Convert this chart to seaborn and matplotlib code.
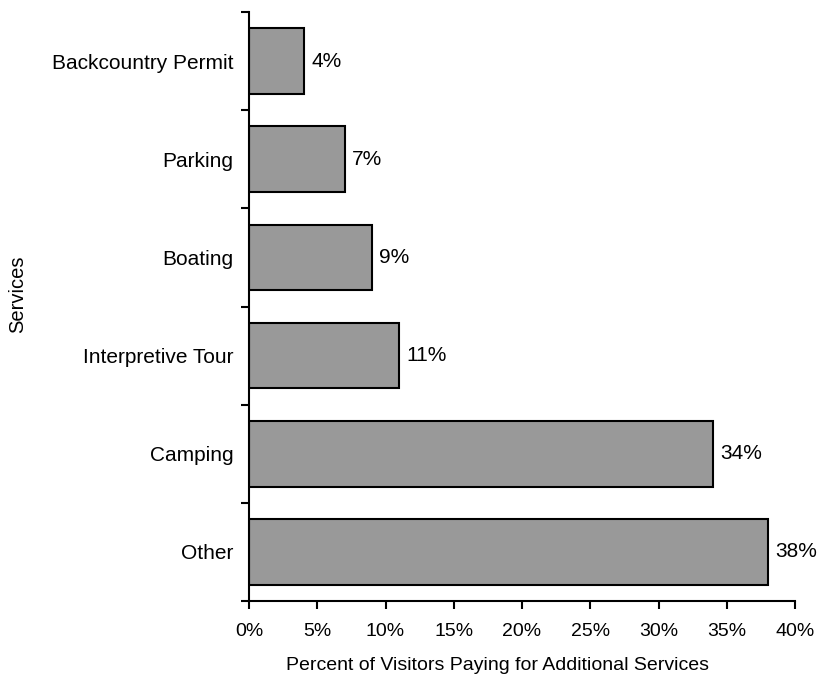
import matplotlib
matplotlib.use("Agg")
import matplotlib.pyplot as plt
import seaborn as sns
import pandas as pd
import numpy as np

services = ["Backcountry Permit", "Parking", "Boating", "Interpretive Tour", "Camping", "Other"]
percents = [4, 7, 9, 11, 34, 38]
xticks = [0, 5, 10, 15, 20, 25, 30, 35, 40]

sns.set_theme(style="white")
plt.rcParams['font.family'] = ['Liberation Sans', 'DejaVu Sans']

df = pd.DataFrame({"Service": services, "Percent": percents})

fig = plt.figure(figsize=(8.17, 6.79), dpi=100)
ax = fig.add_axes([249/817, 78/679, (795-249)/817, (601-12)/679])

sns.barplot(data=df, y="Service", x="Percent", orient="h", color="#999999",
            edgecolor="black", linewidth=1.5, width=0.67, saturation=1, ax=ax)

for i, p in enumerate(percents):
    ax.annotate(f"{p}%", xy=(p, i), xytext=(5.5, 0), textcoords="offset points",
                va="center", ha="left", fontsize=15, color="black")

ax.set_xlim(0, 40)
ax.set_ylim(len(services) - 0.5, -0.5)
ax.set_xticks(xticks)
ax.set_xticklabels([f"{t}%" for t in xticks], fontsize=14)
ax.set_yticks(range(len(services)))
ax.set_yticklabels(services, fontsize=15)
ax.set_yticks(np.arange(-0.5, len(services), 1), minor=True)
ax.tick_params(axis="y", which="major", length=0, pad=11, colors="black")
ax.tick_params(axis="y", which="minor", length=6, width=1.5, direction="out", color="black", left=True)
ax.tick_params(axis="x", which="major", length=6, width=1.5, direction="out", color="black", bottom=True, pad=10, labelcolor="black")

for s in ["top", "right"]:
    ax.spines[s].set_visible(False)
for s in ["left", "bottom"]:
    ax.spines[s].set_color("black")
    ax.spines[s].set_linewidth(1.5)

ax.set_xlabel("Percent of Visitors Paying for Additional Services", fontsize=14, color="black", va="center")
ax.set_ylabel("Services", fontsize=14.5, color="black", va="center")
ax.xaxis.set_label_coords((498 - 249) / 546, (601 - 665) / 589)
ax.yaxis.set_label_coords((18 - 249) / 546, (601 - 294) / 589)

fig.savefig("out.png", dpi=100)
